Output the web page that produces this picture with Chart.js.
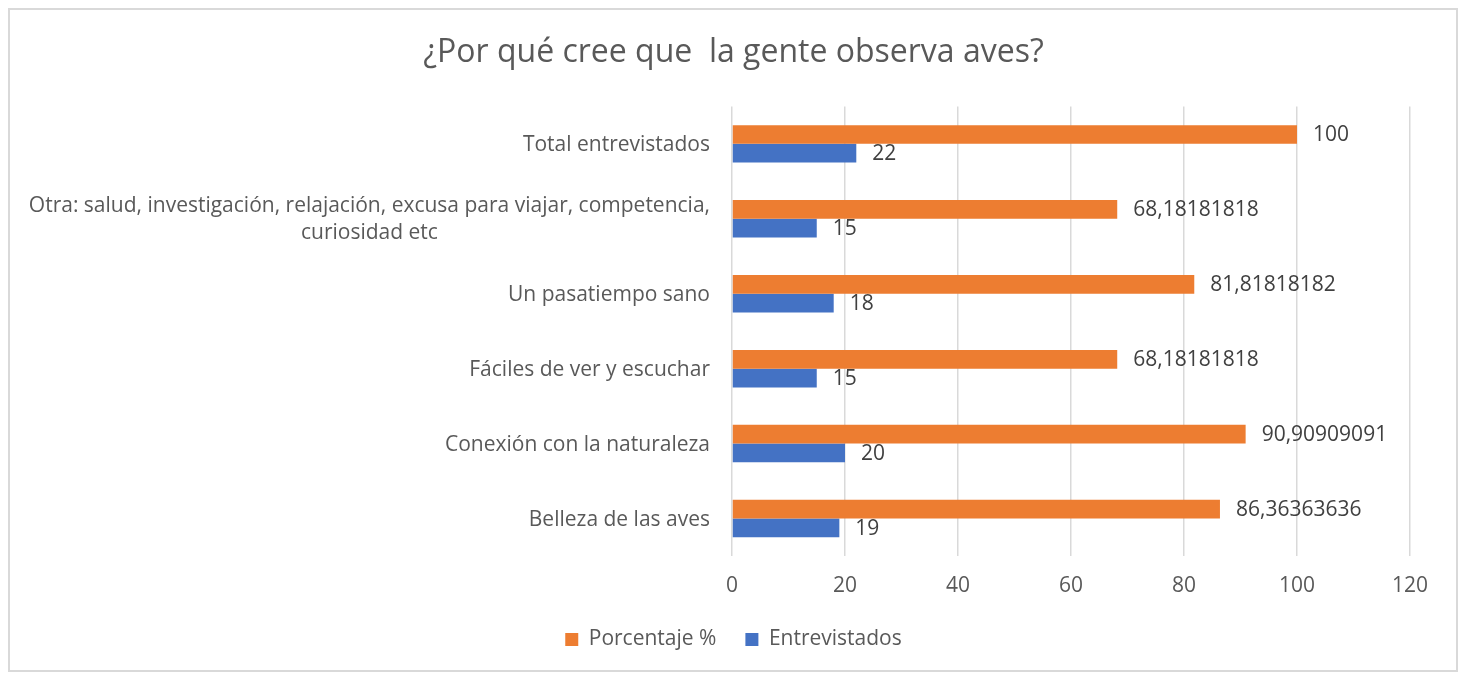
<!DOCTYPE html>
<html>
<head>
<meta charset="utf-8">
<script src="https://cdn.jsdelivr.net/npm/chart.js@4/dist/chart.umd.min.js"></script>
<style>
  html, body { margin: 0; padding: 0; background: #fff; }
  #wrap { position: relative; width: 1467px; height: 674px; }
  #frame { position: absolute; left: 8px; top: 8px; width: 1450px; height: 664px; box-sizing: border-box; border: 2px solid #d9d9d9; pointer-events: none; }
  canvas { position: absolute; left: 0; top: 0; }
</style>
</head>
<body>
<div id="wrap">
  <canvas id="c" width="1467" height="674"></canvas>
  <div id="frame"></div>
</div>
<script>
const categories = [
  "Total entrevistados",
  ["Otra: salud, investigación, relajación, excusa para viajar, competencia,", "curiosidad etc"],
  "Un pasatiempo sano",
  "Fáciles de ver y escuchar",
  "Conexión con la naturaleza",
  "Belleza de las aves"
];
const porcentaje = [100, 68.18181818, 81.81818182, 68.18181818, 90.90909091, 86.36363636];
const entrevistados = [22, 15, 18, 15, 20, 19];
const xTicks = [0, 20, 40, 60, 80, 100, 120];

const FONT = "'Open Sans', 'Noto Sans', sans-serif";
const TEXT = '#595959';
const FS = 21;

const yLabelPlugin = {
  id: 'yLabels',
  afterDraw(chart) {
    const ctx = chart.ctx;
    const y = chart.scales.y;
    const right = chart.chartArea.left - 22;
    ctx.save();
    ctx.font = FS + 'px ' + FONT;
    ctx.fillStyle = TEXT;
    ctx.textBaseline = 'middle';
    ctx.textAlign = 'center';
    categories.forEach((lab, i) => {
      const py = y.getPixelForTick(i);
      const lines = Array.isArray(lab) ? lab : [lab];
      const lh = 27;
      const widths = lines.map(l => ctx.measureText(l).width);
      const maxW = Math.max(...widths);
      const cx = right - maxW / 2;
      lines.forEach((l, k) => {
        const ly = py + 1 + (k - (lines.length - 1) / 2) * lh;
        ctx.fillText(l, lines.length > 1 ? cx : right - widths[k] / 2, ly);
      });
    });
    ctx.restore();
  }
};

const valueLabelPlugin = {
  id: 'valueLabels',
  afterDatasetsDraw(chart) {
    const ctx = chart.ctx;
    ctx.save();
    ctx.font = FS + 'px ' + FONT;
    ctx.fillStyle = '#404040';
    ctx.textAlign = 'left';
    ctx.textBaseline = 'middle';
    chart.data.datasets.forEach((ds, di) => {
      const meta = chart.getDatasetMeta(di);
      meta.data.forEach((el, i) => {
        const txt = String(ds.data[i]).replace('.', ',');
        ctx.fillText(txt, el.x + 16, el.y + 1);
      });
    });
    ctx.restore();
  }
};

new Chart(document.getElementById('c'), {
  type: 'bar',
  data: {
    labels: categories,
    datasets: [
      { label: 'Porcentaje %', data: porcentaje, backgroundColor: '#ED7D31', categoryPercentage: 0.5, barPercentage: 1.0 },
      { label: 'Entrevistados', data: entrevistados, backgroundColor: '#4472C4', categoryPercentage: 0.5, barPercentage: 1.0 }
    ]
  },
  options: {
    indexAxis: 'y',
    responsive: false,
    animation: false,
    layout: { padding: { left: 57, right: 57, top: 0, bottom: 14 } },
    plugins: {
      title: {
        display: true,
        text: '¿Por qué cree que  la gente observa aves?',
        color: TEXT,
        font: { family: FONT, size: 32, weight: 'normal' },
        padding: { top: 34, bottom: 34 }
      },
      legend: {
        position: 'bottom',
        labels: {
          color: TEXT,
          font: { family: FONT, size: FS },
          boxWidth: 13,
          boxHeight: 13,
          padding: 29
        }
      },
      tooltip: { enabled: false }
    },
    scales: {
      x: {
        min: 0,
        max: 120,
        afterBuildTicks(scale) { scale.ticks = xTicks.map(v => ({ value: v })); },
        afterFit(scale) { scale.height = 44; },
        grid: { color: '#d9d9d9', lineWidth: 1.5, drawTicks: false },
        border: { display: false },
        ticks: { color: TEXT, font: { family: FONT, size: FS }, padding: 17 }
      },
      y: {
        afterFit(scale) { scale.width = 732 - 57; },
        grid: { display: false },
        border: { display: false },
        ticks: { display: false }
      }
    }
  },
  plugins: [yLabelPlugin, valueLabelPlugin]
});
</script>
</body>
</html>
